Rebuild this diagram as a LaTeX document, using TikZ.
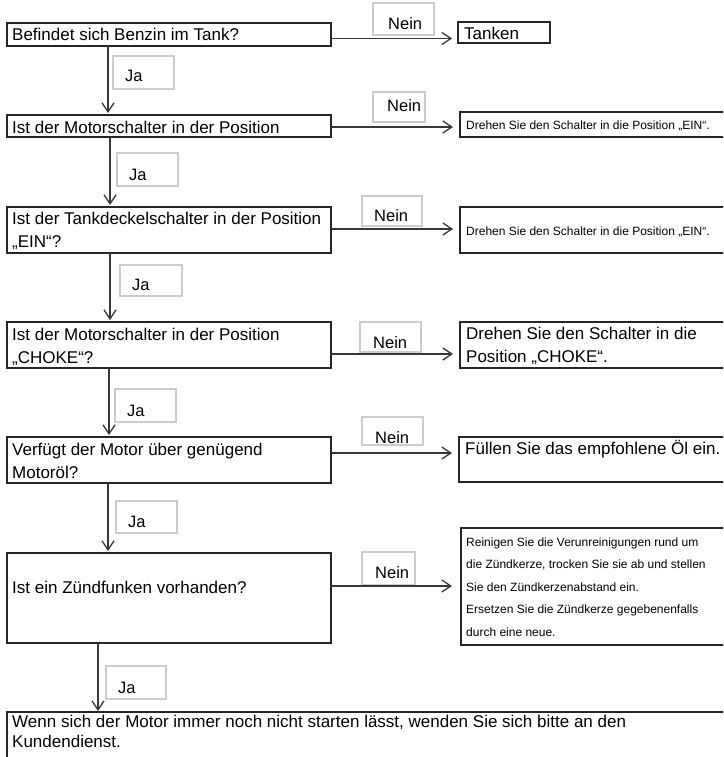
\documentclass[tikz,border=0pt]{standalone}
\usepackage{fontspec}
\setmainfont{Liberation Sans}
\usetikzlibrary{arrows.meta}
\begin{document}
\begin{tikzpicture}[x=1pt,y=-1pt,
  frame/.style={draw=black!85, line width=1.6pt, inner sep=0pt, outer sep=0pt, anchor=north west},
  tag/.style={draw=black!20, line width=1.1pt, inner sep=0pt, outer sep=0pt, anchor=north west},
  bigtxt/.style={font=\fontsize{17}{20}\selectfont, inner sep=0pt, anchor=base west},
  smalltxt/.style={font=\fontsize{12}{14}\selectfont, inner sep=0pt, anchor=base west},
  tagtxt/.style={font=\fontsize{16.5}{20}\selectfont, inner sep=0pt, anchor=base west},
  arr/.style={draw=black!78, line width=1.3pt, -{Straight Barb[length=9pt,width=12pt,line width=1.3pt]}},
]
\useasboundingbox (0,0) rectangle (723,757);
\clip (0,0) rectangle (723,757);

% left question frames
\node[frame, minimum width=324pt, minimum height=23pt] (L1) at (7,23) {};
\node[frame, minimum width=324pt, minimum height=22pt] (L2) at (7,115) {};
\node[frame, minimum width=324pt, minimum height=46pt] (L3) at (7,207) {};
\node[frame, minimum width=324pt, minimum height=46pt] (L4) at (7,322) {};
\node[frame, minimum width=324pt, minimum height=46pt] (L5) at (7,437) {};
\node[frame, minimum width=324pt, minimum height=90pt] (L6) at (7,553) {};
\node[frame, minimum width=730pt, minimum height=60pt] (L7) at (7,712) {};

% right answer frames
\node[frame, minimum width=92pt, minimum height=21pt] (R1) at (458,22) {};
\node[frame, minimum width=280pt, minimum height=25pt] (R2) at (460,112) {};
\node[frame, minimum width=280pt, minimum height=46pt] (R3) at (460,207) {};
\node[frame, minimum width=280pt, minimum height=46pt] (R4) at (460,322) {};
\node[frame, minimum width=280pt, minimum height=45pt] (R5) at (459,437) {};
\node[frame, minimum width=280pt, minimum height=117pt] (R6) at (461,528) {};

% left texts
\node[bigtxt] (tL1) at (12,41) {Befindet sich Benzin im Tank?};
\node[bigtxt] (tL2) at (12,133) {Ist der Motorschalter in der Position};
\node[bigtxt] (tL3a) at (12,224) {Ist der Tankdeckelschalter in der Position};
\node[bigtxt] (tL3b) at (12,247) {„EIN“?};
\node[bigtxt] (tL4a) at (12,340) {Ist der Motorschalter in der Position};
\node[bigtxt] (tL4b) at (12,363) {„CHOKE“?};
\node[bigtxt] (tL5a) at (12,455) {Verfügt der Motor über genügend};
\node[bigtxt] (tL5b) at (12,478) {Motoröl?};
\node[bigtxt] (tL6) at (12,593) {Ist ein Zündfunken vorhanden?};
\node[bigtxt] (tL7a) at (12,727) {Wenn sich der Motor immer noch nicht starten lässt, wenden Sie sich bitte an den};
\node[bigtxt] (tL7b) at (12,747) {Kundendienst.};

% right texts
\node[bigtxt] (tR1) at (464,40) {Tanken};
\node[smalltxt] (tR2) at (466,130) {Drehen Sie den Schalter in die Position „EIN“.};
\node[smalltxt] (tR3) at (466,235) {Drehen Sie den Schalter in die Position „EIN“.};
\node[bigtxt] (tR4a) at (466,339) {Drehen Sie den Schalter in die};
\node[bigtxt] (tR4b) at (466,362) {Position „CHOKE“.};
\node[bigtxt] (tR5) at (465,454) {Füllen Sie das empfohlene Öl ein.};
\node[smalltxt] (tR6a) at (466,546) {Reinigen Sie die Verunreinigungen rund um};
\node[smalltxt] (tR6b) at (466,568.5) {die Zündkerze, trocken Sie sie ab und stellen};
\node[smalltxt] (tR6c) at (466,591) {Sie den Zündkerzenabstand ein.};
\node[smalltxt] (tR6d) at (466,613.5) {Ersetzen Sie die Zündkerze gegebenenfalls};
\node[smalltxt] (tR6e) at (466,636) {durch eine neue.};

% Ja tags
\node[tag, minimum width=61pt, minimum height=33pt] (J1) at (113,56) {};
\node[tagtxt] (tJ1) at (125,82) {Ja};
\node[tag, minimum width=61pt, minimum height=33pt] (J2) at (117,153) {};
\node[tagtxt] (tJ2) at (129,180) {Ja};
\node[tag, minimum width=62pt, minimum height=31pt] (J3) at (120,265) {};
\node[tagtxt] (tJ3) at (132,290) {Ja};
\node[tag, minimum width=61pt, minimum height=33pt] (J4) at (115,389) {};
\node[tagtxt] (tJ4) at (127,416) {Ja};
\node[tag, minimum width=61pt, minimum height=32pt] (J5) at (116,501) {};
\node[tagtxt] (tJ5) at (128,527) {Ja};
\node[tag, minimum width=60pt, minimum height=33pt] (J6) at (106,666) {};
\node[tagtxt] (tJ6) at (118,693) {Ja};

% Nein tags
\node[tag, minimum width=61pt, minimum height=32pt] (N1) at (373,3) {};
\node[tagtxt] (tN1) at (388,30) {Nein};
\node[tag, minimum width=52pt, minimum height=30pt] (N2) at (373,92) {};
\node[tagtxt] (tN2) at (387,112) {Nein};
\node[tag, minimum width=60pt, minimum height=30pt] (N3) at (362,196) {};
\node[tagtxt] (tN3) at (374,221) {Nein};
\node[tag, minimum width=61pt, minimum height=30pt] (N4) at (360,322) {};
\node[tagtxt] (tN4) at (373,348) {Nein};
\node[tag, minimum width=61pt, minimum height=28pt] (N5) at (362,417) {};
\node[tagtxt] (tN5) at (375,443) {Nein};
\node[tag, minimum width=53pt, minimum height=33pt] (N6) at (362,552) {};
\node[tagtxt] (tN6) at (375,578) {Nein};

% vertical (Ja) connectors
\coordinate (v1) at (108,0);
\coordinate (v2) at (110,0);
\coordinate (v3) at (110,0);
\coordinate (v4) at (109,0);
\coordinate (v5) at (108,0);
\coordinate (v6) at (98,0);
\draw[arr, shorten >=2pt] (L1.south -| v1) -- (L2.north -| v1);
\draw[arr, shorten >=2pt] (L2.south -| v2) -- (L3.north -| v2);
\draw[arr, shorten >=2pt] (L3.south -| v3) -- (L4.north -| v3);
\draw[arr, shorten >=2pt] (L4.south -| v4) -- (L5.north -| v4);
\draw[arr, shorten >=2pt] (L5.south -| v5) -- (L6.north -| v5);
\draw[arr, shorten >=1pt] (L6.south -| v6) -- (L7.north -| v6);

% horizontal (Nein) connectors
\draw[arr, shorten >=6pt] ([yshift=-4pt]L1.east) -- ([yshift=-4pt]L1.east -| R1.west);
\draw[arr, shorten >=7pt] ([yshift=-1pt]L2.east) -- ([yshift=-1pt]L2.east -| R2.west);
\draw[arr, shorten >=7pt] ([yshift=1pt]L3.east) -- ([yshift=1pt]L3.east -| R3.west);
\draw[arr, shorten >=7pt] ([yshift=-9pt]L4.east) -- ([yshift=-9pt]L4.east -| R4.west);
\draw[arr, shorten >=7pt] ([yshift=7pt]L5.east) -- ([yshift=7pt]L5.east -| R5.west);
\draw[arr, shorten >=9pt] ([yshift=12pt]L6.east) -- ([yshift=12pt]L6.east -| R6.west);
\end{tikzpicture}
\end{document}
